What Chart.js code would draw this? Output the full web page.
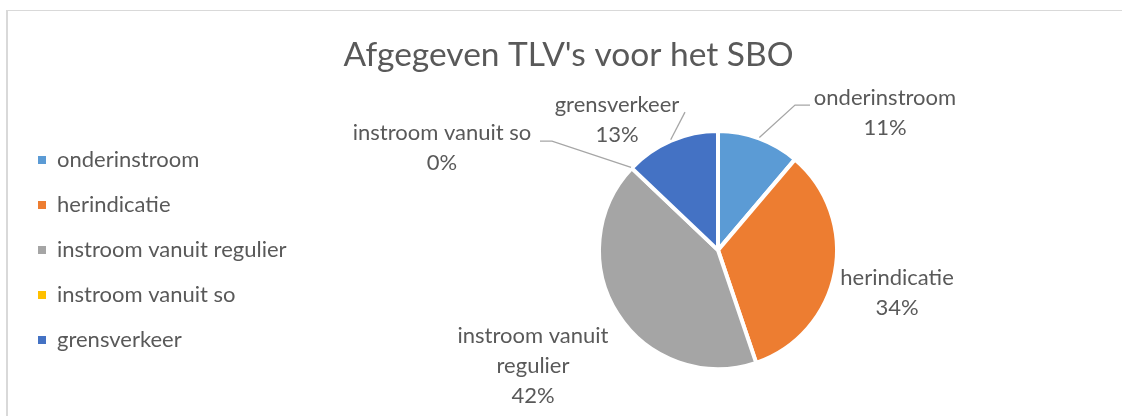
<!DOCTYPE html>
<html>
<head>
<meta charset="utf-8">
<script src="https://cdn.jsdelivr.net/npm/chart.js@4.4.1/dist/chart.umd.min.js"></script>
<style>
  html, body { margin: 0; padding: 0; background: #fff; }
  #wrap { width: 1122px; height: 416px; }
</style>
</head>
<body>
<div id="wrap"><canvas id="chart" width="1122" height="416"></canvas></div>
<script>
// ---- data ----
const categories = ['onderinstroom', 'herindicatie', 'instroom vanuit regulier', 'instroom vanuit so', 'grensverkeer'];
const shares = [11.2, 33.6, 42.3, 0, 12.9];
const sliceColors = ['#5B9BD5', '#ED7D31', '#A5A5A5', '#FFC000', '#4472C4'];
const chartTitle = "Afgegeven TLV's voor het SBO";

// data label text lines (category name wrapped as in the original)
const labelLines = [['onderinstroom'], ['herindicatie'], ['instroom vanuit', 'regulier'], ['instroom vanuit so'], ['grensverkeer']];

const TEXT = '#595959';
const FONT = 'Lato, "Open Sans", sans-serif';

// label placement, relative to the pie centre; leader = [elbow, end] relative to the label centre
const labelLayout = [
  { dx: 167, dy: -137, leader: [[-90, -8], [-75, -8]] },
  { dx: 179, dy: 43, leader: null },
  { dx: -185, dy: 116, leader: null },
  { dx: -276, dy: -102, leader: [[110, -7], [98, -7]] },
  { dx: -101, dy: -130, leader: [[68, -8], [68, -8]] },
];

// fixed legend column width so the pie sits where it does in the original
const legendWidth = 299;

const framePlugin = {
  id: 'frame',
  beforeDraw(chart) {
    const c = chart.ctx;
    c.save();
    c.strokeStyle = '#D9D9D9';
    c.lineWidth = 1;
    c.beginPath(); c.moveTo(6, 10.5); c.lineTo(chart.width, 10.5); c.stroke();
    c.lineWidth = 2;
    c.beginPath(); c.moveTo(7, 10); c.lineTo(7, chart.height); c.stroke();
    c.restore();
  }
};

const legendWidthPlugin = {
  id: 'legendWidth',
  afterInit(chart) {
    const lg = chart.legend;
    if (!lg) return;
    const orig = lg.fit;
    lg.fit = function () { orig.call(this); this.width = legendWidth; };
  }
};

const pieLabels = {
  id: 'pieLabels',
  afterDatasetsDraw(chart) {
    const c = chart.ctx;
    const meta = chart.getDatasetMeta(0);
    const total = shares.reduce((a, b) => a + b, 0);
    c.save();
    meta.data.forEach((arc, i) => {
      const lay = labelLayout[i];
      const cx = arc.x + lay.dx, cy = arc.y + lay.dy;
      const lines = labelLines[i].concat([Math.round(shares[i] / total * 100) + '%']);
      if (lay.leader) {
        const mid = (arc.startAngle + arc.endAngle) / 2;
        const r = arc.outerRadius + 1;
        c.strokeStyle = '#A6A6A6';
        c.lineWidth = 1.3;
        c.beginPath();
        c.moveTo(arc.x + Math.cos(mid) * r, arc.y + Math.sin(mid) * r);
        c.lineTo(cx + lay.leader[0][0], cy + lay.leader[0][1]);
        c.lineTo(cx + lay.leader[1][0], cy + lay.leader[1][1]);
        c.stroke();
      }
      c.fillStyle = TEXT;
      c.font = '22px ' + FONT;
      c.textAlign = 'center';
      c.textBaseline = 'middle';
      const lh = 30;
      const y0 = cy - (lines.length - 1) * lh / 2;
      lines.forEach((t, k) => c.fillText(t, cx, y0 + k * lh));
    });
    c.restore();
  }
};

new Chart(document.getElementById('chart'), {
  type: 'pie',
  data: {
    labels: categories,
    datasets: [{
      data: shares,
      backgroundColor: sliceColors,
      borderColor: '#FFFFFF',
      borderWidth: 4,
      radius: 119,
    }]
  },
  options: {
    responsive: false,
    animation: false,
    layout: { padding: { left: 15, right: 0, top: 0, bottom: 20 } },
    plugins: {
      title: {
        display: true, text: chartTitle, color: TEXT,
        font: { family: FONT, size: 33.5, weight: 'normal' },
        padding: { top: 35, bottom: 29 },
      },
      legend: {
        position: 'left', align: 'center', fullSize: false,
        labels: {
          color: TEXT, font: { family: FONT, size: 22 }, boxWidth: 8, boxHeight: 8, padding: 23,
          generateLabels: (chart) => Chart.overrides.pie.plugins.legend.labels.generateLabels(chart)
            .map(l => Object.assign(l, { lineWidth: 0 })),
        },
      },
      tooltip: { enabled: false },
    },
  },
  plugins: [framePlugin, legendWidthPlugin, pieLabels],
});
</script>
</body>
</html>
